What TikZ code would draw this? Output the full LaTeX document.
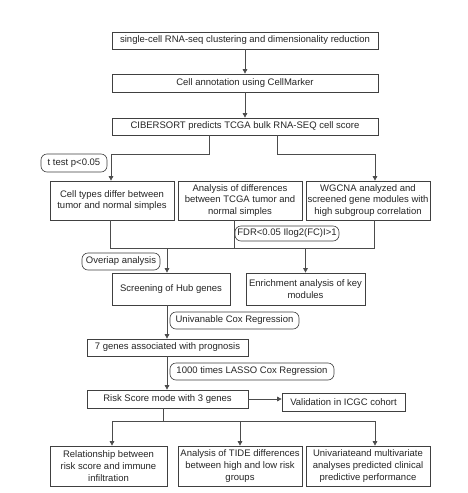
\documentclass[tikz,border=0pt]{standalone}
\usepackage{fontspec}
\setmainfont{Liberation Sans}
\usetikzlibrary{arrows.meta,calc}
\begin{document}
\begin{tikzpicture}[x=1pt,y=-1pt,
  every node/.style={font=\fontsize{9.5}{11.6}\selectfont, text=black!85, inner sep=0.5pt},
  box/.style={draw=black!75, line width=0.7pt, align=center},
  lab/.style={draw=black!75, line width=0.6pt, rounded corners=6pt, align=center},
  conn/.style={draw=black!70, line width=0.7pt},
  arr/.style={conn, -{Triangle[length=4.5pt,width=4.5pt]}}]
\useasboundingbox (0,0) rectangle (468,493);
\fill[white] (0,0) rectangle (468,493);
\node[box, minimum width=266pt, minimum height=17pt] (b1) at (245,40.5) {single-cell RNA-seq clustering and dimensionality reduction};
\node[box, minimum width=266pt, minimum height=18pt] (b2) at (245,83) {Cell annotation using CellMarker};
\node[box, minimum width=266pt, minimum height=17pt] (b3) at (245,126.5) {CIBERSORT predicts TCGA bulk RNA-SEQ cell score};
\node[lab, minimum width=66pt, minimum height=18pt] (tt) at (74,163) {t test p<0.05};
\node[box, minimum width=124pt, minimum height=39pt] (cA) at (112,200.5) {Cell types differ between\\tumor and normal simples};
\node[box, minimum width=124pt, minimum height=39pt] (cB) at (240,200.5) {Analysis of differences\\between TCGA tumor and\\normal simples};
\node[box, minimum width=124pt, minimum height=39pt] (cC) at (368,200.5) {WGCNA analyzed and\\screened gene modules with\\high subgroup correlation};
\node[lab, minimum width=104pt, minimum height=15pt] (fdr) at (287,233.5) {FDR<0.05 Ilog2(FC)I>1};
\node[lab, minimum width=78pt, minimum height=17pt] (ov) at (121,261.5) {Overiap analysis};
\node[box, minimum width=118pt, minimum height=32pt] (hub) at (171,289) {Screening of Hub genes};
\node[box, minimum width=119pt, minimum height=32pt] (enr) at (305.5,289) {Enrichment analysis of key\\modules};
\node[lab, minimum width=129pt, minimum height=17pt] (uv) at (234.5,320.5) {Univanable Cox Regression};
\node[box, minimum width=161pt, minimum height=17pt] (g7) at (167.5,347.5) {7 genes associated with prognosis};
\node[lab, minimum width=164pt, minimum height=17pt] (la) at (252,371.5) {1000 times LASSO Cox Regression};
\node[box, minimum width=161pt, minimum height=18pt] (rk) at (167.5,399) {Risk Score mode with 3 genes};
\node[box, minimum width=123pt, minimum height=18pt] (va) at (343.5,402) {Validation in ICGC cohort};
\node[box, minimum width=117pt, minimum height=40pt] (dA) at (108.5,466) {Relationship between\\risk score and immune\\infiltration};
\node[box, minimum width=124pt, minimum height=40pt] (dB) at (240,466) {Analysis of TIDE differences\\between high and low risk\\groups};
\node[box, minimum width=124pt, minimum height=40pt] (dC) at (368,466) {Univariateand multivariate\\analyses predicted clinical\\predictive performance};
% connectors
\draw[arr] (b1.south) -- (b2.north);
\draw[arr] (b2.south) -- (b3.north);
\coordinate (j1) at (209,154);
\coordinate (j2) at (277,154);
\coordinate (xa) at (111,154);
\coordinate (xc) at (375,154);
\draw[conn] (b3.south -| j1) -- (j1) -- (xa);
\draw[arr] (xa) -- (xa |- cA.north);
\draw[conn] (b3.south -| j2) -- (j2) -- (xc);
\draw[arr] (xc) -- (xc |- cC.north);
\coordinate (m0) at (110,248);
\coordinate (m2) at (374,248);
\coordinate (m1) at (167,248);
\coordinate (mb) at (234,248);
\draw[conn] (m0 |- cA.south) -- (m0) -- (m2) -- (m2 |- cC.south);
\draw[conn] (mb |- cB.south) -- (mb);
\draw[arr] (m1) -- (m1 |- hub.north);
\draw[arr] (enr.north |- m1) -- (enr.north);
\draw[arr] (m1 |- hub.south) -- (m1 |- g7.north);
\draw[arr] (m1 |- g7.south) -- (m1 |- rk.north);
\draw[arr] (rk.east) -- (va.west |- rk.east);
\coordinate (r) at (163,421);
\coordinate (ra) at (112,421);
\coordinate (rb) at (240,421);
\coordinate (rc) at (375,421);
\draw[conn] (r |- rk.south) -- (r);
\draw[conn] (ra) -- (rc);
\draw[arr] (ra) -- (ra |- dA.north);
\draw[arr] (rb) -- (rb |- dB.north);
\draw[arr] (rc) -- (rc |- dC.north);
\end{tikzpicture}
\end{document}
